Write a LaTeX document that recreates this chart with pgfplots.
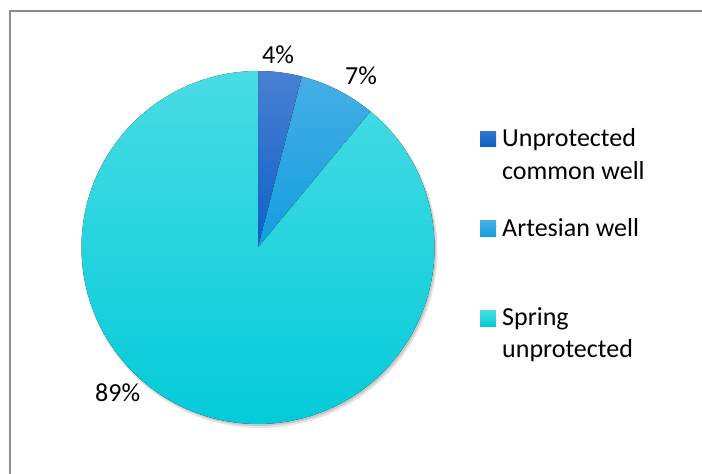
\documentclass[border=0pt]{standalone}
\usepackage{pgfplots}
\pgfplotsset{compat=1.18}
\usepackage{pgfplotstable}
\usepackage{fontspec}
\setmainfont{Carlito}

\definecolor{dkTop}{HTML}{4A80D2}
\definecolor{dkBot}{HTML}{0C60C8}
\definecolor{mdTop}{HTML}{46AEE6}
\definecolor{mdBot}{HTML}{129EDF}
\definecolor{cyTop}{HTML}{48DCE4}
\definecolor{cyBot}{HTML}{00CAD8}
\definecolor{frame}{HTML}{8C8C8C}

% share of each source, percent
\pgfplotstableread{
share
4
7
89
}\piedata

\pgfplotstablegetelem{0}{share}\of\piedata \edef\sA{\pgfplotsretval}
\pgfplotstablegetelem{1}{share}\of\piedata \edef\sB{\pgfplotsretval}
\pgfplotstablegetelem{2}{share}\of\piedata \edef\sC{\pgfplotsretval}
\pgfmathsetmacro\aA{90-3.6*\sA}
\pgfmathsetmacro\aB{\aA-3.6*\sB}
\pgfmathsetmacro\aC{\aB-3.6*\sC}

\tikzset{lbl/.style={anchor=base west, inner sep=0pt, font=\fontsize{26}{32}\selectfont}}

\begin{document}
\begin{tikzpicture}
\begin{axis}[
    width=702pt, height=474pt,
    scale only axis,
    xmin=0, xmax=702, ymin=0, ymax=474,
    hide axis,
    clip=true,
]
% keep the whole canvas in the bounding box
\path (axis cs:0,0) rectangle (axis cs:702,474);
% frame
\draw[frame, line width=1.4pt] (axis cs:10,0) -- (axis cs:10,463) -- (axis cs:702,463);
% shadow
\fill[black, opacity=0.10] (axis cs:260,223.5) circle[radius=177.5pt];
\fill[black, opacity=0.12] (axis cs:259.5,224.5) circle[radius=176.5pt];
% slices
\fill[top color=dkTop, bottom color=dkBot] (axis cs:258,226.5) -- ++(90:176.5pt)
    arc[start angle=90, end angle=\aA, radius=176.5pt] -- cycle;
\fill[top color=mdTop, bottom color=mdBot] (axis cs:258,226.5) -- ++(\aA:176.5pt)
    arc[start angle=\aA, end angle=\aB, radius=176.5pt] -- cycle;
\fill[top color=cyTop, bottom color=cyBot] (axis cs:258,226.5) -- ++(\aB:176.5pt)
    arc[start angle=\aB, end angle=\aC, radius=176.5pt] -- cycle;
% data labels
\node[lbl] at (axis cs:262,410) {\sA\%};
\node[lbl] at (axis cs:345,389) {\sB\%};
\node[lbl] at (axis cs:95,72.5) {\sC\%};
% legend
\fill[top color=dkTop!60!dkBot, bottom color=dkBot] (axis cs:480,327) rectangle (axis cs:496,342);
\node[lbl] at (axis cs:502,327) {Unprotected};
\node[lbl] at (axis cs:502,294) {common well};
\fill[top color=mdTop, bottom color=mdBot] (axis cs:480,237) rectangle (axis cs:496,253);
\node[lbl] at (axis cs:502,237) {Artesian well};
\fill[top color=cyTop, bottom color=cyBot] (axis cs:480,147) rectangle (axis cs:496,163);
\node[lbl] at (axis cs:502,148) {Spring};
\node[lbl] at (axis cs:502,116) {unprotected};
\end{axis}
\end{tikzpicture}
\end{document}
